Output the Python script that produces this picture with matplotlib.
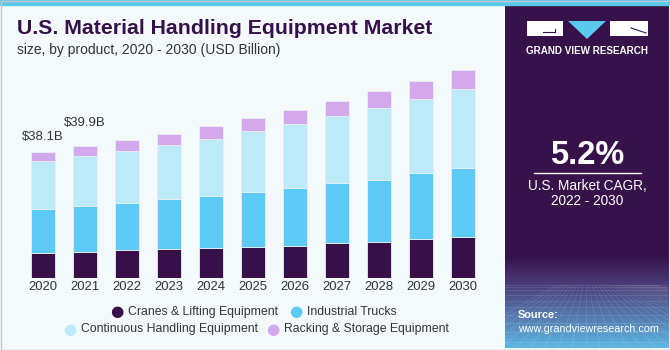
import numpy as np
import matplotlib
matplotlib.use("Agg")
from matplotlib import pyplot as plt
from matplotlib import patches
from matplotlib import font_manager

years = ["2020", "2021", "2022", "2023", "2024", "2025",
         "2026", "2027", "2028", "2029", "2030"]
cranes = [7.5, 8.0, 8.4, 8.7, 9.1, 9.4, 9.7, 10.6, 11.0, 11.8, 12.5]
trucks = [13.3, 13.9, 14.2, 15.1, 15.8, 16.7, 17.4, 18.0, 18.8, 19.9, 20.7]
continuous = [14.6, 15.0, 15.8, 16.4, 17.2, 18.4, 19.5, 20.3, 21.7, 22.5, 23.9]
racking = [2.7, 3.0, 3.4, 3.4, 3.8, 3.8, 4.3, 4.5, 5.0, 5.4, 5.8]
series_names = ["Cranes & Lifting Equipment", "Industrial Trucks",
                "Continuous Handling Equipment", "Racking & Storage Equipment"]
labels = {0: "$38.1B", 1: "$39.9B"}
cagr = "5.2%"

W, H = 670, 350
BG = "#F4F9FC"
DARK = "#36104A"
colors = ["#37104A", "#5BCAF6", "#BDEAF9", "#D4A8EC"]
font = "Liberation Sans"

# narrow face if present, else shrink the regular one
try:
    font_manager.findfont("Liberation Sans Narrow", fallback_to_default=False)
    narrow, nscale = "Liberation Sans Narrow", 1.0
except Exception:
    narrow, nscale = "Liberation Sans", 0.86

fig = plt.figure(figsize=(W / 100, H / 100), dpi=100)
fig.patch.set_facecolor(BG)

def px(x, y, w, h):
    return [x / W, 1 - (y + h) / H, w / W, h / H]

# top stripe
fig.patches.append(patches.Rectangle((0, 1 - 5 / H), 1, 5 / H, transform=fig.transFigure,
                                     color="#5BC8F0", zorder=0))
# border
fig.patches.append(patches.Rectangle((0.5 / W, 0.5 / H), 1 - 1 / W, 1 - 1 / H, transform=fig.transFigure,
                                     fill=False, ec="#C8C8C8", lw=1, zorder=5))

# right panel with gradient
pan = fig.add_axes(px(505, 5, 163, 343))
grad = np.ones((343, 1, 3))
top = np.array(matplotlib.colors.to_rgb("#36114A"))
mid = np.array(matplotlib.colors.to_rgb("#4A3A78"))
bot = np.array(matplotlib.colors.to_rgb("#5EB8E4"))
for i in range(343):
    if i < 250:
        grad[i, 0] = top
    elif i < 278:
        t = (i - 250) / 28
        grad[i, 0] = top * (1 - t) + mid * t
    else:
        t = (i - 278) / 65
        grad[i, 0] = mid * (1 - t) + bot * t
pan.imshow(grad, aspect="auto", extent=(0, 163, 343, 0), zorder=0)
# faint grid texture
for k in range(14):
    yy = 280 + (k ** 1.6) * 1.7
    if yy < 343:
        pan.plot([0, 163], [yy, yy], color="white", alpha=0.12, lw=0.6)
for k in range(-10, 24):
    pan.plot([81 + k * 3, 81 + k * 14], [280, 343], color="white", alpha=0.12, lw=0.6)
pan.set_xlim(0, 163)
pan.set_ylim(343, 0)
pan.axis("off")

# logo (panel coords: x-505, y-5)
pan.add_patch(patches.Rectangle((22, 16), 36, 15, facecolor="white", lw=0, zorder=3))
pan.plot([38, 50], [27, 27], color=DARK, lw=0.8, zorder=4)
pan.plot([50, 50], [24, 27], color=DARK, lw=0.8, zorder=4)
pan.add_patch(patches.Polygon([[63, 16], [101, 16], [82, 34]], facecolor="#5BC8F0", lw=0, zorder=3))
pan.add_patch(patches.Rectangle((105, 16), 38, 15, facecolor="white", lw=0, zorder=3))
pan.plot([126, 141], [23, 28], color=DARK, lw=0.8, zorder=4)
pan.text(82, 45.5, "GRAND VIEW RESEARCH", color="white", fontsize=7.1, fontweight="bold",
         ha="center", va="center", family=font)

pan.text(82, 150, cagr, color="white", fontsize=23.5, fontweight="bold",
         ha="center", va="center", family=font)
pan.plot([29, 136], [168.3, 168.3], color="white", lw=1)
pan.text(82, 181, "U.S. Market CAGR,", color="white", fontsize=10.5 if nscale == 1 else 9.8,
         ha="center", va="center", family=narrow if nscale == 1 else font)
pan.text(82, 196, "2022 - 2030", color="white", fontsize=10.5 if nscale == 1 else 9.8,
         ha="center", va="center", family=narrow if nscale == 1 else font)
pan.text(13, 310, "Source:", color="white", fontsize=9.2 * nscale, fontweight="bold",
         ha="left", va="center", family=narrow)
pan.text(13, 324, "www.grandviewresearch.com", color="white", fontsize=9.0 * nscale,
         ha="left", va="center", family=narrow)

# title
fig.text(17 / W, 1 - 29 / H, "U.S. Material Handling Equipment Market", color=DARK, fontsize=15.3,
         fontweight="bold", ha="left", va="center", family=font)
fig.text(17 / W, 1 - 50 / H, "size, by product, 2020 - 2030 (USD Billion)", color="#333333", fontsize=10,
         ha="left", va="center", family=font)

# bars
base_px = 278.3
scale = 38.1 / (base_px - 152)
ax = fig.add_axes(px(1, 60, 504, base_px - 60))
ax.set_xlim(-1, 11)
ax.set_ylim(0, (base_px - 60) * scale)
ax.axis("off")
x = np.arange(len(years))
bottom = np.zeros(len(years))
for vals, c in zip([cranes, trucks, continuous, racking], colors):
    ax.bar(x, vals, 0.57, bottom=bottom, color=c, edgecolor="#E8EEF4", linewidth=0.6)
    bottom += np.array(vals)

label_offsets = [11, 16.5]
for i, lab in labels.items():
    ax.annotate(lab, (x[i], bottom[i]), xytext=(0, label_offsets[i]), textcoords="offset points",
                ha="center", va="center", fontsize=11 * nscale, color="#333333", family=narrow)
for i, y in enumerate(years):
    ax.annotate(y, (x[i], 0), xytext=(0, -6.5), textcoords="offset points",
                ha="center", va="center", fontsize=11 * nscale, color="#333333", family=narrow,
                annotation_clip=False)

# legend
leg_pos = [(117, 312), (296, 312), (70, 329), (273, 329)]
for (lx, ly), name, c in zip(leg_pos, series_names, colors):
    fig.text(lx / W, 1 - ly / H, "\u25CF", color=c, fontsize=11, ha="center", va="center")
    fig.text((lx + 11) / W, 1 - ly / H, name, color="#333333", fontsize=10.3 * nscale,
             ha="left", va="center", family=narrow)

fig.savefig("out.png", dpi=100, facecolor=BG)
